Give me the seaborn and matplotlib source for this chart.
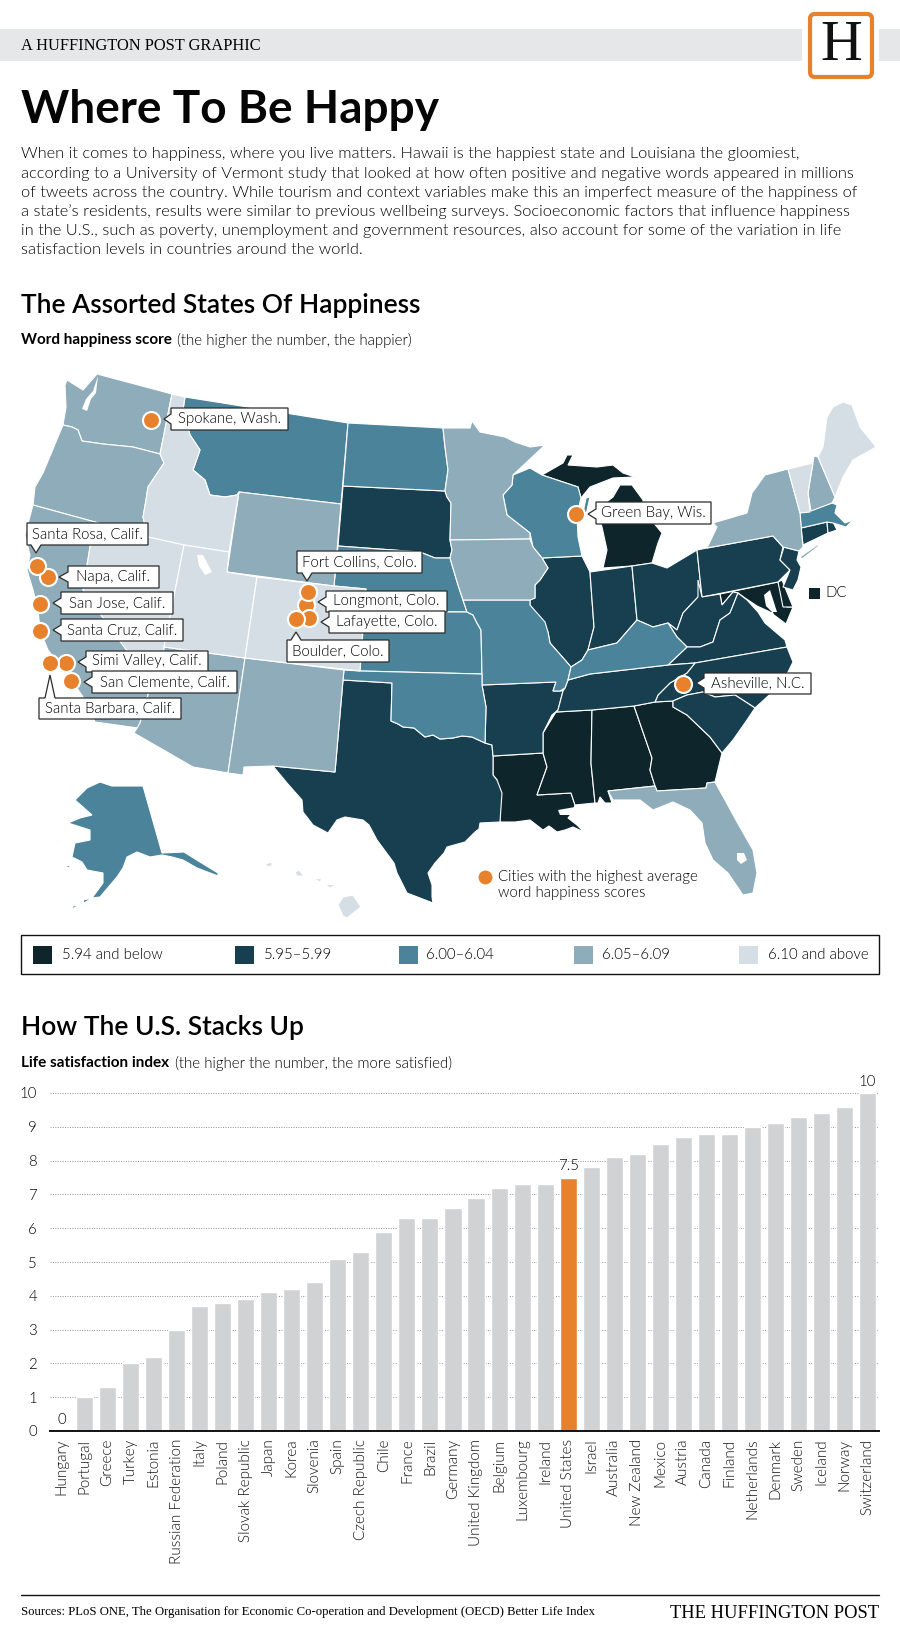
"""
Where To Be Happy - word happiness map and life satisfaction bars
"""

import matplotlib
matplotlib.use("Agg")
import matplotlib.pyplot as plt
import pandas as pd
import seaborn as sns
from matplotlib.patches import FancyBboxPatch, Polygon, Rectangle

# ------------------------------------------------------------------
# Bar chart data
# ------------------------------------------------------------------
COUNTRIES = ["Hungary", "Portugal", "Greece", "Turkey", "Estonia", "Russian Federation",
             "Italy", "Poland", "Slovak Republic", "Japan", "Korea", "Slovenia", "Spain",
             "Czech Republic", "Chile", "France", "Brazil", "Germany", "United Kingdom",
             "Belgium", "Luxembourg", "Ireland", "United States", "Israel", "Australia",
             "New Zealand", "Mexico", "Austria", "Canada", "Finland", "Netherlands",
             "Denmark", "Sweden", "Iceland", "Norway", "Switzerland"]
LIFE_SATISFACTION = [0, 1.0, 1.3, 2.0, 2.2, 3.0, 3.7, 3.8, 3.9, 4.1, 4.2, 4.4, 5.1, 5.3, 5.9,
                     6.3, 6.3, 6.6, 6.9, 7.2, 7.3, 7.3, 7.5, 7.8, 8.1, 8.2, 8.5, 8.7, 8.8,
                     8.8, 9.0, 9.1, 9.3, 9.4, 9.6, 10]
LABELLED_COUNTRIES = {"Hungary": "0", "United States": "7.5", "Switzerland": "10"}

# ------------------------------------------------------------------
# Map data: outlines are vertices, in image pixels
# ------------------------------------------------------------------
BIN_LABELS = ["5.94 and below", "5.95\u20135.99", "6.00\u20136.04", "6.05\u20136.09", "6.10 and above"]
BIN_COLORS = ["#0E252B", "#173F50", "#4B849A", "#8FACBA", "#D5DEE5"]
BIN_STATES = [
    ["MI", "MD", "DE", "LA", "MS", "AL", "GA"],
    ["SD", "TX", "AR", "IL", "IN", "OH", "PA", "NJ", "CT", "RI", "WV", "VA", "NC", "SC", "TN"],
    ["MT", "ND", "NE", "KS", "MO", "OK", "WI", "KY", "MA", "AK"],
    ["WA", "OR", "CA", "AZ", "NM", "WY", "MN", "IA", "NY", "NH", "FL"],
    ["ID", "NV", "UT", "CO", "ME", "VT", "HI"],
]

STATE_RINGS = {
    "WA": [[(97, 374), (172, 394), (160, 454), (133, 447), (103, 444), (82, 441), (78, 430), (72, 427),
            (63, 425), (66, 407), (65, 385), (67, 380), (83, 390)]],
    "OR": [[(63, 425), (72, 427), (78, 430), (82, 441), (103, 444), (133, 447), (160, 454), (164, 463),
            (148, 487), (146, 500), (143, 517), (148, 537), (95, 522), (33, 505), (35, 487), (43, 473)]],
    "CA": [[(33, 505), (95, 522), (90, 547), (83, 590), (117, 637), (150, 682), (148, 695), (140, 723),
            (138, 728), (95, 722), (85, 700), (75, 685), (60, 665), (48, 650), (40, 630), (38, 610),
            (33, 590), (27, 570), (30, 555), (25, 535)]],
    "NV": [[(95, 522), (148, 537), (184, 545), (164, 647), (163, 655), (160, 652), (155, 660), (150, 682),
            (117, 637), (83, 590), (90, 547)]],
    "ID": [[(172, 394), (185, 397), (183, 410), (190, 435), (200, 450), (193, 470), (205, 480), (210, 495),
            (225, 497), (237, 495), (239, 492), (229, 552), (184, 545), (148, 537), (143, 517), (146, 500),
            (148, 487), (164, 463), (160, 454)]],
    "MT": [[(185, 397), (348, 423), (341, 504), (239, 492), (237, 495), (225, 497), (210, 495), (205, 480),
            (193, 470), (200, 450), (190, 435), (183, 410)]],
    "WY": [[(239, 492), (341, 504), (334, 586), (227, 572)]],
    "UT": [[(184, 545), (229, 552), (227, 572), (257, 577), (245, 658), (164, 647)]],
    "CO": [[(257, 577), (334, 586), (366, 589), (360, 671), (245, 658)]],
    "AZ": [[(164, 647), (245, 658), (228, 773), (193, 767), (134, 733), (140, 723), (148, 695), (150, 682),
            (155, 660), (160, 652), (163, 655)]],
    "NM": [[(245, 658), (344, 670), (343, 680), (335, 772), (273, 766), (244, 767), (243, 775), (228, 773)]],
    "TX": [[(343, 680), (392, 683), (391, 721), (398, 724), (403, 727), (414, 728), (425, 737), (433, 735),
            (440, 739), (453, 738), (462, 736), (472, 737), (485, 743), (492, 745), (493, 756), (493, 775),
            (497, 780), (502, 793), (500, 822), (480, 823), (479, 829), (475, 832), (465, 842), (447, 847),
            (444, 853), (435, 863), (428, 873), (432, 885), (432, 897), (433, 903), (420, 898), (407, 893),
            (397, 873), (394, 863), (377, 840), (369, 825), (363, 820), (345, 817), (337, 820), (328, 833),
            (313, 825), (303, 812), (302, 800), (287, 783), (273, 766), (335, 772)]],
    "OK": [[(344, 670), (360, 671), (482, 674), (482, 685), (486, 707), (485, 743), (472, 737), (462, 736),
            (453, 738), (440, 739), (433, 735), (425, 737), (414, 728), (403, 727), (398, 724), (391, 721),
            (392, 683), (343, 680)]],
    "KS": [[(364, 611), (450, 612), (467, 612), (473, 615), (477, 623), (481, 630), (482, 674), (360, 671)]],
    "NE": [[(338, 546), (420, 552), (435, 558), (450, 558), (458, 585), (463, 600), (467, 612), (364, 611),
            (366, 589), (334, 586)]],
    "SD": [[(343, 486), (445, 491), (447, 497), (451, 503), (450, 540), (452, 550), (450, 558), (435, 558),
            (420, 552), (338, 546)]],
    "ND": [[(348, 423), (443, 428), (445, 447), (448, 470), (445, 491), (343, 486)]],
    "MN": [[(443, 428), (470, 428), (472, 421), (480, 432), (505, 437), (515, 442), (530, 447), (545, 445),
            (513, 475), (512, 485), (503, 495), (507, 515), (530, 533), (530, 539), (450, 540), (451, 503),
            (447, 497), (445, 491), (448, 470), (445, 447)]],
    "IA": [[(450, 540), (530, 539), (533, 547), (542, 558), (548, 568), (540, 580), (535, 585), (535, 598),
            (530, 600), (463, 600), (458, 585), (450, 558), (452, 550)]],
    "MO": [[(463, 600), (530, 600), (530, 605), (545, 622), (548, 632), (550, 643), (565, 660), (571, 667),
            (568, 680), (565, 688), (560, 691), (553, 691), (556, 682), (482, 685), (482, 674), (481, 630),
            (477, 623), (473, 615), (467, 612)]],
    "AR": [[(482, 685), (556, 682), (553, 691), (563, 691), (558, 710), (552, 715), (543, 733), (543, 753),
            (493, 756), (492, 745), (485, 743), (486, 707)]],
    "LA": [[(493, 756), (543, 753), (547, 767), (537, 795), (571, 793), (575, 805), (573, 812), (568, 818),
            (577, 825), (584, 832), (573, 827), (565, 830), (557, 832), (549, 826), (543, 830), (530, 820),
            (515, 822), (500, 822), (500, 797), (497, 780), (493, 775)]],
    "MS": [[(556, 712), (592, 710), (591, 763), (595, 803), (575, 805), (571, 793), (537, 795), (547, 767),
            (543, 753), (543, 733)]],
    "AL": [[(592, 710), (634, 706), (652, 758), (650, 770), (655, 786), (608, 791), (612, 803), (605, 803),
            (600, 797), (598, 803), (595, 803), (591, 763)]],
    "GA": [[(634, 706), (655, 702), (673, 701), (673, 707), (687, 715), (710, 737), (722, 753), (715, 782),
            (707, 783), (706, 788), (657, 791), (655, 786), (650, 770), (652, 758)]],
    "FL": [[(608, 791), (655, 786), (657, 791), (706, 788), (707, 783), (715, 782), (725, 800), (737, 822),
            (753, 850), (757, 873), (753, 893), (743, 895), (728, 873), (713, 860), (705, 843), (702, 823),
            (690, 810), (673, 802), (653, 810), (640, 800), (613, 800)]],
    "SC": [[(673, 707), (673, 701), (687, 695), (703, 692), (715, 697), (735, 695), (755, 708), (747, 720),
            (733, 740), (722, 753), (710, 737), (687, 715)]],
    "NC": [[(695, 663), (787, 647), (793, 662), (788, 672), (778, 687), (755, 708), (735, 695), (715, 697),
            (703, 692), (687, 695), (673, 701), (655, 702), (658, 695), (670, 683), (687, 673)]],
    "TN": [[(568, 680), (590, 674), (668, 665), (695, 663), (687, 673), (670, 683), (658, 695), (655, 702),
            (634, 706), (592, 710), (556, 712), (558, 710), (563, 691), (565, 688)]],
    "KY": [[(568, 680), (571, 667), (582, 660), (588, 650), (617, 643), (637, 620), (653, 627), (668, 623),
            (677, 637), (687, 647), (668, 665), (590, 674)]],
    "VA": [[(668, 665), (687, 647), (700, 647), (713, 642), (720, 620), (730, 613), (738, 593), (747, 600),
            (758, 612), (765, 623), (785, 640), (787, 647), (695, 663)]],
    "WV": [[(677, 630), (683, 613), (698, 597), (698, 580), (702, 597), (720, 594), (722, 605), (733, 592),
            (738, 593), (730, 613), (720, 620), (713, 642), (700, 647), (687, 647), (677, 637), (668, 623)]],
    "OH": [[(632, 566), (652, 563), (667, 568), (697, 550), (702, 597), (698, 597), (683, 613), (677, 630),
            (668, 623), (653, 627), (637, 620)]],
    "IN": [[(590, 572), (632, 566), (637, 620), (617, 643), (588, 650), (594, 627)]],
    "IL": [[(542, 558), (582, 556), (590, 572), (594, 627), (588, 650), (582, 660), (571, 667), (565, 660),
            (550, 643), (548, 632), (530, 605), (530, 600), (535, 598), (535, 585), (540, 580), (548, 568)]],
    "WI": [[(513, 475), (530, 468), (542, 475), (578, 487), (581, 498), (577, 515), (578, 537), (582, 556),
            (542, 558), (533, 547), (530, 533), (507, 515), (503, 495), (512, 485)],
           [(586, 498), (590, 497), (586, 515), (583, 513)]],
    "MI": [[(542, 475), (563, 463), (567, 455), (573, 455), (568, 465), (597, 467), (613, 465), (623, 473),
            (635, 477), (613, 478), (590, 487), (581, 498), (578, 487)],
           [(620, 485), (632, 485), (643, 500), (643, 510), (662, 533), (658, 543), (652, 563), (632, 566),
            (603, 568), (607, 550), (602, 527), (596, 510), (613, 497)]],
    "PA": [[(697, 550), (707, 548), (773, 536), (783, 547), (780, 560), (790, 570), (778, 582), (702, 597)]],
    "NY": [[(707, 548), (717, 527), (713, 523), (747, 513), (752, 493), (765, 475), (788, 469), (800, 513),
            (803, 547), (799, 551), (783, 547), (773, 536)],
           [(800, 557), (817, 545), (820, 545), (802, 559)]],
    "NJ": [[(784, 547), (799, 551), (797, 560), (801, 567), (798, 580), (793, 590), (783, 587), (790, 570),
            (780, 560)]],
    "VT": [[(788, 469), (813, 463), (808, 493), (810, 512), (800, 513)]],
    "NH": [[(814, 456), (818, 457), (835, 497), (832, 503), (811, 511), (808, 493)]],
    "ME": [[(843, 402), (852, 405), (860, 427), (876, 447), (853, 460), (843, 477), (835, 497), (818, 457),
            (823, 447), (827, 417), (833, 407)]],
    "MA": [[(800, 513), (832, 503), (837, 505), (835, 513), (845, 523), (853, 520), (846, 527), (833, 523),
            (827, 522), (801, 528)]],
    "CT": [[(801, 528), (827, 522), (828, 533), (803, 545)]],
    "RI": [[(827, 522), (833, 522), (837, 530), (828, 533)]],
    "MD": [[(720, 594), (778, 582), (787, 607), (793, 607), (786, 624), (770, 612), (757, 606), (745, 598),
            (738, 593), (733, 592), (722, 605)]],
    "DE": [[(778, 582), (782, 580), (793, 607), (783, 607)]],
    "AK": [[(100, 782), (112, 786), (143, 786), (162, 853), (184, 852), (200, 862), (218, 873), (218, 876),
            (197, 868), (183, 860), (172, 857), (162, 855), (150, 857), (137, 852), (127, 857), (123, 868),
            (117, 877), (100, 897), (92, 898), (103, 883), (103, 873), (87, 870), (82, 862), (72, 857),
            (75, 843), (90, 840), (90, 830), (68, 823), (80, 818), (92, 815), (75, 800), (87, 788)],
           [(92, 898), (84, 903), (83, 900)], [(80, 905), (72, 909), (73, 906)],
           [(55, 838), (60, 841), (56, 840)], [(66, 865), (71, 866), (68, 868)]],
    "HI": [[(343, 897), (353, 895), (361, 907), (347, 918), (343, 916), (338, 905)],
           [(265, 864), (272, 862), (272, 866), (268, 867)], [(295, 872), (299, 870), (304, 876), (297, 876)],
           [(313, 878), (322, 879), (320, 882)], [(325, 884), (336, 885), (330, 888)]],
}

# lakes and bays left white on top of the states
WATER_RINGS = [
    [(98, 376), (96, 393), (91, 399), (87, 411), (82, 409), (86, 399), (93, 391)],
    [(197, 555), (203, 555), (212, 572), (205, 575), (199, 566)],
    [(737, 853), (744, 853), (747, 860), (741, 864), (737, 860)],
    [(764, 595), (770, 590), (777, 612), (772, 612), (766, 606)],
    [(758, 612), (773, 612), (778, 628), (770, 624)],
    [(558, 810), (575, 807), (573, 815), (560, 815)],
]

CITY_NAMES = ["Spokane, Wash.", "Napa, Calif.", "Santa Rosa, Calif.", "San Jose, Calif.", "Santa Cruz, Calif.",
              "Simi Valley, Calif.", "San Clemente, Calif.", "Santa Barbara, Calif.", "Longmont, Colo.",
              "Lafayette, Colo.", "Fort Collins, Colo.", "Boulder, Colo.", "Green Bay, Wis.", "Asheville, N.C."]
CITY_X = [151, 48, 37, 40, 40, 66, 71, 50, 306, 309, 308, 296, 576, 683]
CITY_Y = [420, 577, 566, 604, 631, 663, 681, 663, 605, 618, 592, 619, 514, 684]

# label boxes per city: left, top, right, bottom, tip x, tip y
CALLOUT_BOXES = [
    (171, 408, 288, 430, 164, 419),
    (68, 566, 159, 588, 59, 577),
    (27, 523, 148, 545, 36, 553),
    (61, 592, 173, 614, 53, 603),
    (61, 619, 183, 641, 53, 630),
    (86, 651, 208, 672, 78, 662),
    (92, 671, 237, 693, 84, 682),
    (39, 698, 181, 719, 50, 675),
    (326, 591, 447, 612, 318, 602),
    (329, 611, 445, 633, 321, 622),
    (297, 551, 422, 573, 307, 581),
    (287, 640, 389, 662, 296, 632),
    (596, 502, 711, 524, 588, 514),
    (704, 673, 811, 694, 696, 683),
]

LEGEND_SWATCH_X = [33, 235, 399, 574, 739]
LEGEND_TEXT_X = [62, 264, 426, 602, 768]

INTRO_LINES = [
    "When it comes to happiness, where you live matters. Hawaii is the happiest state and Louisiana the gloomiest,",
    "according to a University of Vermont study that looked at how often positive and negative words appeared in millions",
    "of tweets across the country. While tourism and context variables make this an imperfect measure of the happiness of",
    "a state\u2019s residents, results were similar to previous wellbeing surveys. Socioeconomic factors that influence happiness",
    "in the U.S., such as poverty, unemployment and government resources, also account for some of the variation in life",
    "satisfaction levels in countries around the world.",
]
INTRO_Y = [154, 174, 193, 212, 231, 250]

ORANGE = "#E8812B"
INK = "#000000"
PX = 0.72  # font sizes below are given in pixels
LIGHT = 300

sns.set_theme(style="white")
plt.rcParams["font.family"] = ["Lato", "DejaVu Sans"]


def page_text(ax, x, y, text, size, weight=LIGHT, color=INK, ha="left", family=None, zorder=10):
    kwargs = {"family": family} if family else {}
    ax.text(x, y, text, fontsize=size * PX, fontweight=weight, color=color, ha=ha, va="center",
            zorder=zorder, **kwargs)


def callout(ax, name, box):
    left, top, right, bottom, tip_x, tip_y = box
    half = 5
    if tip_x < left:
        pts = [(left, top), (right, top), (right, bottom), (left, bottom),
               (left, tip_y + half), (tip_x, tip_y), (left, tip_y - half)]
    elif tip_y < top:
        pts = [(left, top), (tip_x - half, top), (tip_x, tip_y), (tip_x + half, top), (right, top),
               (right, bottom), (left, bottom)]
    else:
        pts = [(left, top), (right, top), (right, bottom), (tip_x + half, bottom), (tip_x, tip_y),
               (tip_x - half, bottom), (left, bottom)]
    ax.add_patch(Polygon(pts, closed=True, facecolor="white", edgecolor="#2B2B2B", linewidth=0.9, zorder=6))
    ax.text((left + right) / 2, (top + bottom) / 2, name, fontsize=15 * PX, fontweight=LIGHT, color=INK,
            ha="center", va="center", zorder=7)


def draw_header(ax):
    ax.add_patch(Rectangle((0, 29), 900, 32, facecolor="#E6E7E8", edgecolor="none"))
    ax.add_patch(Rectangle((802, 10), 77, 72, facecolor="white", edgecolor="none", zorder=2))
    ax.add_patch(FancyBboxPatch((810, 14), 62, 63, boxstyle="round,pad=0,rounding_size=5", facecolor="white",
                                edgecolor=ORANGE, linewidth=3, zorder=3))
    page_text(ax, 841, 46, "H", 58, weight="normal", color="#111111", ha="center", family="Liberation Serif",
              zorder=4)
    page_text(ax, 21, 46, "A HUFFINGTON POST GRAPHIC", 16.4, weight="normal", family="Liberation Serif")
    page_text(ax, 21, 110, "Where To Be Happy", 46, weight="bold", color="#050505")
    for line, y in zip(INTRO_LINES, INTRO_Y):
        page_text(ax, 21, y, line, 16.4)
    page_text(ax, 21, 305, "The Assorted States Of Happiness", 26.4, weight=600, color="#000000")
    page_text(ax, 21, 340, "Word happiness score", 15.2, weight="bold")
    page_text(ax, 177, 340, "(the higher the number, the happier)", 15)
    page_text(ax, 21, 1028, "How The U.S. Stacks Up", 26.4, weight=600, color="#000000")
    page_text(ax, 21, 1063, "Life satisfaction index", 15.2, weight="bold")
    page_text(ax, 175, 1063, "(the higher the number, the more satisfied)", 15)


def draw_map(ax):
    for color, states in zip(BIN_COLORS, BIN_STATES):
        for state in states:
            for ring in STATE_RINGS[state]:
                ax.add_patch(Polygon(ring, closed=True, facecolor=color, edgecolor="white", linewidth=0.8,
                                     zorder=2))
    for ring in WATER_RINGS:
        ax.add_patch(Polygon(ring, closed=True, facecolor="white", edgecolor="none", zorder=2.5))

    # DC sits off the map as its own little key
    ax.add_patch(Rectangle((809, 588), 11, 11, facecolor=BIN_COLORS[0], edgecolor="none", zorder=3))
    page_text(ax, 825, 593, "DC", 15)

    for name, box in zip(CITY_NAMES, CALLOUT_BOXES):
        callout(ax, name, box)
    cities = pd.DataFrame({"name": CITY_NAMES, "x": CITY_X, "y": CITY_Y})
    sns.scatterplot(data=cities, x="x", y="y", s=150, color=ORANGE, edgecolor="white", linewidth=1.5,
                    zorder=8, legend=False, ax=ax)
    ax.scatter([485], [877], s=100, color=ORANGE, linewidth=0, zorder=8)
    page_text(ax, 498, 877, "Cities with the highest average", 15)
    page_text(ax, 498, 893, "word happiness scores", 15)

    # colour key under the map
    ax.add_patch(Rectangle((21, 935), 858, 39, facecolor="white", edgecolor="#111111", linewidth=1))
    for x_box, x_text, color, label in zip(LEGEND_SWATCH_X, LEGEND_TEXT_X, BIN_COLORS, BIN_LABELS):
        ax.add_patch(Rectangle((x_box, 946), 18.5, 18, facecolor=color, edgecolor="none", zorder=3))
        page_text(ax, x_text, 955, label, 15)


def draw_footer(ax):
    ax.plot([21, 879], [1595, 1595], color="#111111", linewidth=1)
    page_text(ax, 21, 1612, "Sources: PLoS ONE, The Organisation for Economic Co-operation and Development (OECD) "
              "Better Life Index", 12.7, weight="normal", family="Liberation Serif")
    page_text(ax, 879, 1614, "THE HUFFINGTON POST", 18.5, weight="normal", ha="right", family="Liberation Serif")


def draw_bars(fig):
    df = pd.DataFrame({"country": COUNTRIES, "score": LIFE_SATISFACTION})
    df["group"] = ["us" if c == "United States" else "other" for c in COUNTRIES]

    # 50..879 px across, value 10 at y=1093, value 0 at y=1431
    ax = fig.add_axes([50 / 900, 1 - 1431 / 1637, 829 / 900, 338 / 1637])
    ax.patch.set_alpha(0)
    sns.barplot(data=df, x="country", y="score", hue="group", palette={"other": "#D1D2D4", "us": ORANGE},
                dodge=False, width=0.74, saturation=1, legend=False, zorder=3, ax=ax)
    ax.set_xlim(-0.5, 35.5)
    ax.set_ylim(0, 10)
    ax.set_xlabel("")
    ax.set_ylabel("")
    ax.set_yticks(range(0, 11))
    ax.yaxis.grid(True, color="#8E8E8E", linestyle=(0, (1, 1.5)), linewidth=0.7, zorder=1)
    ax.set_axisbelow(True)
    ax.xaxis.grid(False)
    ax.tick_params(axis="y", length=0, pad=9.4, labelsize=15 * PX, labelcolor=INK)
    ax.tick_params(axis="x", length=0, pad=5.5, labelsize=15.2 * PX, labelcolor="#111111", rotation=90)
    for label in ax.get_xticklabels():
        label.set_va("top")
        label.set_ha("center")
        label.set_fontweight(LIGHT)
    for label in ax.get_yticklabels():
        label.set_fontweight(LIGHT)
    sns.despine(ax=ax, left=True, top=True, right=True)
    ax.spines["bottom"].set_color("#111111")
    ax.spines["bottom"].set_linewidth(1.4)
    ax.spines["bottom"].set_zorder(6)

    for i, (country, score) in enumerate(zip(COUNTRIES, LIFE_SATISFACTION)):
        if country in LABELLED_COUNTRIES:
            ax.annotate(LABELLED_COUNTRIES[country], (i, score), xytext=(0, 3), textcoords="offset points",
                        ha="center", va="bottom", fontsize=15 * PX, fontweight=LIGHT, color=INK,
                        annotation_clip=False)
    return ax


def main():
    fig = plt.figure(figsize=(9, 16.37), dpi=100, facecolor="white")
    page = fig.add_axes([0, 0, 1, 1])
    page.set_xlim(0, 900)
    page.set_ylim(1637, 0)
    page.axis("off")

    draw_header(page)
    draw_map(page)
    draw_footer(page)
    page.set_xlim(0, 900)
    page.set_ylim(1637, 0)
    page.set_xlabel("")
    page.set_ylabel("")
    draw_bars(fig)

    fig.savefig("out.png", dpi=100)
    plt.close(fig)


if __name__ == "__main__":
    main()
